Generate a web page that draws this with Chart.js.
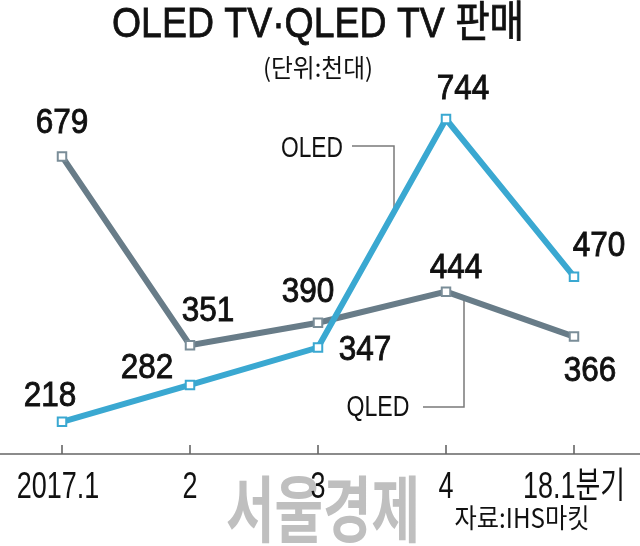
<!DOCTYPE html>
<html>
<head>
<meta charset="utf-8">
<script src="https://cdn.jsdelivr.net/npm/chart.js@4"></script>
<style>
  html, body { margin: 0; padding: 0; background: #fff; }
</style>
</head>
<body>
<canvas id="c" width="640" height="546"></canvas>
<script>
// data (천대)
const quarters = ['2017.1', '2', '3', '4', '18.1분기'];
const oled = [218, 282, 347, 744, 470];
const qled = [679, 351, 390, 444, 366];

// where each value label sits relative to its marker (px)
const oledLabelOff = [[-12, -28], [-43, -19], [47, 0], [17, -32], [25, -33]];
const qledLabelOff = [[0, -36], [18, -37], [-10, -33], [10, -26], [16, 32]];

const Y_MIN = 162, Y_MAX = 777;
const BLUE = '#3aa8d1', GRAY = '#687c88';
const LATIN = '"Liberation Sans", "Noto Sans CJK KR", sans-serif';
const KR = '"Noto Sans CJK KR", "Liberation Sans", sans-serif';

// centred text, squeezed horizontally (newspaper fonts are condensed)
function drawText(ctx, s, x, y, o) {
  ctx.save();
  ctx.font = `${o.weight || 'normal'} ${o.size}px ${o.family || LATIN}`;
  ctx.fillStyle = o.color || '#111';
  ctx.textAlign = 'center';
  ctx.textBaseline = o.baseline || 'alphabetic';
  let sx = o.sx || 1;
  if (o.width) sx = o.width / ctx.measureText(s).width;
  ctx.translate(x, y);
  ctx.scale(sx, 1);
  ctx.fillText(s, 0, 0);
  if (o.stroke) {
    ctx.strokeStyle = ctx.fillStyle;
    ctx.lineWidth = o.stroke;
    ctx.strokeText(s, 0, 0);
  }
  ctx.restore();
}

const decor = {
  id: 'decor',
  beforeDatasetsDraw(chart) {
    const ctx = chart.ctx, xs = chart.scales.x, area = chart.chartArea;

    // watermark
    drawText(ctx, '서울경제', 323, 509, { size: 72, weight: 'bold', color: '#bfbfbf', width: 194, baseline: 'middle', family: KR });

    // x axis line + ticks pointing up
    ctx.save();
    ctx.strokeStyle = '#666';
    ctx.lineWidth = 1.6;
    ctx.beginPath();
    ctx.moveTo(0, area.bottom);
    ctx.lineTo(chart.width, area.bottom);
    quarters.forEach((q, i) => {
      const x = xs.getPixelForValue(i);
      ctx.moveTo(x, area.bottom - 9);
      ctx.lineTo(x, area.bottom);
    });
    ctx.stroke();

    // callout connectors
    ctx.strokeStyle = '#7a7a7a';
    ctx.lineWidth = 1.5;
    ctx.beginPath();
    ctx.moveTo(352, 146); ctx.lineTo(394, 146); ctx.lineTo(394, 208);
    ctx.moveTo(423, 407); ctx.lineTo(464, 407); ctx.lineTo(464, 299);
    ctx.stroke();
    ctx.restore();

    // series names
    drawText(ctx, 'OLED', 312, 156.5, { size: 30, width: 62 });
    drawText(ctx, 'QLED', 378, 416, { size: 30, width: 63 });

    // category labels
    quarters.forEach((q, i) => {
      drawText(ctx, q, xs.getPixelForValue(i) - (i === 0 ? 4 : 0), 498, { size: 36, sx: 0.75 });
    });
  },
  afterDatasetsDraw(chart) {
    const ctx = chart.ctx;
    const offs = [oledLabelOff, qledLabelOff];
    chart.data.datasets.forEach((ds, d) => {
      chart.getDatasetMeta(d).data.forEach((pt, i) => {
        const [dx, dy] = offs[d][i];
        drawText(ctx, String(ds.data[i]), pt.x + dx, pt.y + dy + 12.5, { size: 35, sx: 0.9, stroke: 0.9 });
      });
    });

    // title block
    drawText(ctx, 'OLED TV·QLED TV 판매', 318, 37, { size: 43, width: 412, stroke: 0.8 });
    drawText(ctx, '(단위:천대)', 318, 77, { size: 25, width: 110, family: KR });
    drawText(ctx, '자료:IHS마킷', 522, 528, { size: 27, width: 135, family: KR });
  }
};

new Chart(document.getElementById('c'), {
  type: 'line',
  data: {
    labels: quarters,
    datasets: [
      { label: 'OLED', data: oled, borderColor: BLUE, pointBorderColor: BLUE },
      { label: 'QLED', data: qled, borderColor: GRAY, pointBorderColor: '#7a8d98' }
    ]
  },
  options: {
    responsive: false,
    animation: false,
    events: [],
    layout: { padding: { top: 100, bottom: 92, left: 62, right: 66 } },
    elements: {
      line: { borderWidth: 6, tension: 0 },
      point: { pointStyle: 'rect', radius: 6, borderWidth: 2, backgroundColor: '#fff' }
    },
    datasets: { line: { clip: false } },
    scales: {
      x: { type: 'category', offset: false, display: false },
      y: { min: Y_MIN, max: Y_MAX, display: false }
    },
    plugins: { legend: { display: false }, tooltip: { enabled: false } }
  },
  plugins: [decor]
});
</script>
</body>
</html>
